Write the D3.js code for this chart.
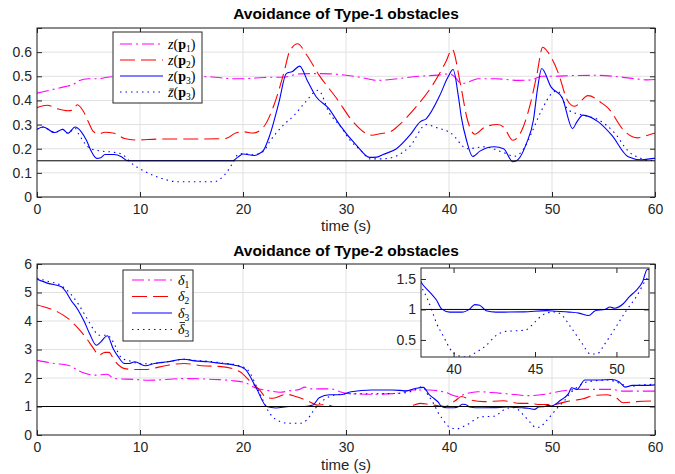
<!DOCTYPE html>
<html>
<head>
<meta charset="utf-8">
<script src="https://cdn.jsdelivr.net/npm/d3@7"></script>
<style>
body { margin: 0; background: #fff; }
svg text { font-family: "Liberation Sans", Arial, sans-serif; }
</style>
</head>
<body>
<script>
// ---- panel 1 : Type-1 obstacles ----
var z1T = [0,1,2,3,3.5,4,5,6,7,9,12,15,17,19,20,22,24,25.5,27,28.5,30,31.5,33,35,37,39,40,40.5,41.2,42,42.8,44.5,46.7,48,49,50.3,52,54.2,56,58,59.3,60];
var z1V = [0.43,0.44,0.45,0.46,0.465,0.48,0.49,0.49,0.497,0.5,0.5,0.5,0.497,0.49,0.49,0.495,0.497,0.51,0.511,0.51,0.504,0.495,0.483,0.49,0.5,0.505,0.51,0.5,0.47,0.478,0.49,0.49,0.483,0.485,0.5,0.5,0.503,0.504,0.5,0.49,0.485,0.487];

var z2T = [0,1,2,3,3.5,3.9,4.5,5,5.5,6,6.6,7.5,8.5,9.5,12,15,18.3,19.3,20,21,22,23,24,24.5,25.3,26.2,27.4,29.1,30.7,32.5,33.3,34.3,35.2,36.8,38.4,39.7,40.3,41.1,41.8,42.5,43.5,44.7,45.3,46.2,47,47.8,48.5,49.1,49.6,50.6,51.5,52.2,53.5,54.8,55.4,57.1,58.3,59.3,60];
var z2V = [0.37,0.38,0.365,0.357,0.36,0.382,0.355,0.31,0.27,0.262,0.268,0.264,0.242,0.236,0.24,0.24,0.242,0.265,0.27,0.265,0.29,0.38,0.52,0.6,0.635,0.587,0.504,0.408,0.311,0.256,0.262,0.27,0.3,0.373,0.463,0.56,0.612,0.47,0.318,0.26,0.29,0.3,0.29,0.235,0.27,0.37,0.5,0.62,0.6,0.515,0.4,0.376,0.42,0.39,0.37,0.27,0.245,0.256,0.265];

var z3T = [0,0.6,1.7,2.5,3,3.7,4.3,4.8,5.3,5.8,6.2,6.6,7.5,8.2,8.8,10,15,19,19.5,20,21.1,21.6,22,22.6,23.5,24.2,24.8,25.5,26.3,27.1,28.3,29.4,31,32.3,33,33.6,34.9,36.2,37.2,37.8,39.1,39.9,40.4,40.9,41.2,41.7,42.3,43,44.4,45.3,46.2,46.7,47.5,48.2,48.6,49,49.9,51,52,52.4,53,54.5,55.8,57.4,58.7,59.9,60];
var z3V = [0.28,0.29,0.267,0.28,0.264,0.29,0.27,0.235,0.187,0.16,0.163,0.176,0.176,0.167,0.15,0.15,0.15,0.15,0.165,0.178,0.172,0.18,0.194,0.256,0.394,0.511,0.52,0.542,0.477,0.415,0.368,0.298,0.215,0.164,0.165,0.176,0.2,0.256,0.311,0.325,0.42,0.497,0.528,0.42,0.33,0.235,0.168,0.19,0.208,0.2,0.146,0.155,0.22,0.32,0.45,0.532,0.456,0.41,0.284,0.31,0.339,0.311,0.256,0.167,0.154,0.16,0.16];

var z3bT = [0,0.6,1.7,2.5,3,3.7,4,5.2,6.3,7.5,8.3,9.2,10.5,12.1,13.7,15.3,17.2,18.2,19,19.5,20,21,22,22.6,23.9,25,26,27.3,28.4,29.5,30.4,31.5,32.3,33.5,34.6,36.2,37.8,38.6,40.2,41.8,43.5,45.1,46.4,47.4,48,49,50,50.5,51.6,52.9,54.5,56.1,57.4,58.7,59.5,60];
var z3bV = [0.28,0.29,0.267,0.28,0.264,0.285,0.264,0.2,0.19,0.185,0.176,0.139,0.105,0.077,0.063,0.063,0.063,0.091,0.14,0.176,0.18,0.175,0.19,0.23,0.297,0.34,0.39,0.442,0.347,0.29,0.235,0.19,0.158,0.158,0.165,0.21,0.3,0.29,0.264,0.2,0.208,0.187,0.169,0.21,0.264,0.36,0.43,0.44,0.36,0.34,0.32,0.264,0.19,0.159,0.15,0.16];

// ---- panel 2 : Type-2 obstacles ----
var d1T = [0,1.7,3,4.3,5.6,6.8,7.5,9.5,10.8,14.3,17.2,19.2,20.2,21.3,22.3,23.6,24.5,25.5,26,26.5,27.5,28.5,29.4,30.4,32.6,34.9,36.5,38.1,39.6,40.9,41.5,42.8,44.5,46.1,47.7,49.3,50.3,51.3,52.6,55.8,56.8,58.4,60];
var d1V = [2.62,2.51,2.45,2.21,2.1,2.13,1.98,1.95,1.92,1.98,1.95,1.9,1.84,1.64,1.57,1.5,1.55,1.6,1.68,1.62,1.62,1.62,1.52,1.45,1.43,1.46,1.58,1.58,1.5,1.35,1.43,1.52,1.48,1.43,1.38,1.43,1.5,1.56,1.6,1.6,1.54,1.54,1.54];

var d2T = [0,1.1,2,3,4,4.8,5.5,6,6.6,7,7.5,8.5,9.5,10.5,12.7,14.3,16,17.9,19.7,20.7,21.6,22.3,22.9,24.2,25.2,26.5,27.2,28.1,28.8,30,33,36,37.2,38.1,39.1,39.6,40.6,41.2,42.1,43.4,45.3,46.9,47.9,48.8,50.1,51.4,52.4,53,54,55.3,56.3,56.9,58.2,60];
var d2V = [4.56,4.45,4.32,4.09,3.74,3.39,3.03,2.8,2.9,2.9,2.62,2.33,2.3,2.3,2.45,2.51,2.43,2.4,2.22,1.88,1.58,1.31,1.29,1.43,1.34,1.16,1.05,1.07,1.0,1.0,1.0,1.0,1.11,1.07,1.02,1.0,1.2,1.35,1.23,1.17,1.2,1.11,1.11,1.07,1.07,1.17,1.23,1.27,1.38,1.41,1.29,1.13,1.17,1.2];

var d3T = [0,1.07,2.37,2.8,3.3,4,4.6,5.1,5.77,6.2,6.83,7.4,7.9,8.5,9,9.5,10.5,11.4,12.7,14.3,15.3,16.6,17.9,19.2,20.2,21.3,22.3,23.2,24.5,26,26.8,27.4,28.4,29.4,30.5,32.5,34.5,35.8,36.8,37.5,38.1,38.55,38.96,39.26,39.77,40.5,41,41.3,41.6,42,42.6,44.3,45.7,46.3,47.1,47.7,48.3,48.7,49.3,49.6,49.9,50.4,50.8,51.2,51.6,51.9,52.4,53.2,54.5,55.8,56.5,57.1,57.8,59,60];
var d3V = [5.47,5.32,5.2,5.03,4.73,4.38,3.97,3.56,3.15,3.27,3.48,3.03,2.74,2.51,2.51,2.57,2.43,2.51,2.57,2.66,2.6,2.57,2.51,2.45,2.31,1.64,1.0,0.95,1.0,1.0,1.05,1.31,1.41,1.41,1.52,1.58,1.58,1.55,1.64,1.67,1.41,1.28,1.15,1.01,0.956,0.956,1.01,1.08,1.07,0.98,0.956,0.96,0.98,0.97,0.956,0.94,0.9,0.98,1.0,1.04,1.02,1.09,1.21,1.31,1.45,1.66,1.6,1.93,1.93,1.95,1.87,1.68,1.74,1.74,1.76];

var d3bT = [0,1,2.3,3,3.5,4,5,5.5,6,6.8,7.5,8,8.5,9,10,11,12.7,14.3,15.3,16.6,17.9,19.2,20.4,21.6,22.6,23.6,24.5,25.5,26.2,26.8,27.5,28.4,29.5,31,33,35,36.5,37.4,38,38.35,38.66,38.96,39.4,39.77,40.2,40.8,41.4,42,42.6,43.2,43.8,44.4,44.8,45.2,45.7,46.2,46.6,47.2,47.9,48.4,48.8,49.3,49.96,50.6,51.2,51.8,52.3,53.5,55.5,56.5,57.5,58.8,60];
var d3bV = [5.5,5.4,5.25,5.05,4.85,4.6,4.0,3.7,3.5,3.5,3.2,2.8,2.65,2.6,2.5,2.5,2.57,2.66,2.62,2.59,2.53,2.47,2.3,1.48,0.76,0.47,0.41,0.41,0.53,0.83,1.13,1.35,1.43,1.45,1.45,1.46,1.55,1.7,1.38,1.2,0.99,0.77,0.55,0.36,0.25,0.22,0.3,0.41,0.57,0.64,0.65,0.66,0.74,0.85,0.94,0.96,0.92,0.71,0.44,0.27,0.27,0.44,0.71,0.98,1.2,1.48,1.64,1.87,1.93,1.82,1.7,1.76,1.78];

// ticks
var xTicks = [0,10,20,30,40,50,60];
var y1Ticks = [0,0.1,0.2,0.3,0.4,0.5,0.6,0.7];
var y2Ticks = [0,1,2,3,4,5,6];
var xInTicks = [40,45,50];
var yInTicks = [0.5,1,1.5];

var MAG = "#ff00ff", RED = "#ff0000", BLUE = "#0000ff", INK = "#262626";
var styles = [
    { color: MAG, dash: "12,4,2,4" },
    { color: RED, dash: "15,6" },
    { color: BLUE, dash: null },
    { color: BLUE, dash: "1.5,4" }
];

var svg = d3.select("body")
        .append("svg")
        .attr("width", 675)
        .attr("height", 474);

var defs = svg.append("defs");

function clipRect(id, x, y) {
    defs.append("clipPath").attr("id", id)
        .append("rect")
        .attr("x", x.range()[0]).attr("y", y.range()[1])
        .attr("width", x.range()[1] - x.range()[0])
        .attr("height", y.range()[0] - y.range()[1]);
}

function drawLine(g, x, y, ts, vs, st) {
    g.append("path")
        .datum(d3.zip(ts, vs))
        .attr("fill", "none")
        .attr("stroke", st.color)
        .attr("stroke-width", 1.1)
        .attr("stroke-dasharray", st.dash)
        .attr("d", d3.line()
            .x(d => x(d[0]))
            .y(d => y(d[1]))
            .curve(d3.curveMonotoneX));
}

// light grid behind the data
function grid(g, x, y, xt, yt) {
    var x0 = x.range()[0], x1 = x.range()[1], yb = y.range()[0], yt0 = y.range()[1];
    g.append("g").selectAll("line").data(xt).enter().append("line")
        .attr("x1", d => x(d)).attr("x2", d => x(d))
        .attr("y1", yb).attr("y2", yt0)
        .attr("stroke", "#e1e1e1");
    g.append("g").selectAll("line").data(yt).enter().append("line")
        .attr("x1", x0).attr("x2", x1)
        .attr("y1", d => y(d)).attr("y2", d => y(d))
        .attr("stroke", "#e1e1e1");
}

// ticks on all four sides, labels bottom/left, box
function frame(g, x, y, xt, yt, fmt) {
    var x0 = x.range()[0], x1 = x.range()[1], yb = y.range()[0], yt0 = y.range()[1];
    var ax = [
        g.append("g").attr("transform", "translate(0," + yb + ")")
            .call(d3.axisBottom(x).tickValues(xt).tickSize(-5).tickPadding(7)),
        g.append("g").attr("transform", "translate(0," + yt0 + ")")
            .call(d3.axisTop(x).tickValues(xt).tickSize(-5).tickFormat("")),
        g.append("g").attr("transform", "translate(" + x0 + ",0)")
            .call(d3.axisLeft(y).tickValues(yt).tickSize(-5).tickPadding(5).tickFormat(fmt)),
        g.append("g").attr("transform", "translate(" + x1 + ",0)")
            .call(d3.axisRight(y).tickValues(yt).tickSize(-5).tickFormat(""))
    ];
    ax.forEach(a => {
        a.select(".domain").remove();
        a.selectAll("line").attr("stroke", INK);
        a.selectAll("text")
            .attr("fill", INK)
            .style("font-size", "14px")
            .style("font-family", "'Liberation Sans', Arial, sans-serif");
    });
    g.append("rect")
        .attr("x", x0).attr("y", yt0)
        .attr("width", x1 - x0).attr("height", yb - yt0)
        .attr("fill", "none")
        .attr("stroke", INK)
        .attr("stroke-width", 1);
}

function hline(g, x, y, v) {
    g.append("line")
        .attr("x1", x.range()[0]).attr("x2", x.range()[1])
        .attr("y1", y(v)).attr("y2", y(v))
        .attr("stroke", "#000")
        .attr("stroke-width", 1);
}

// math label: parts = [text, kind]; "ib" = italic with a bar on top
function mathText(g, t, parts, barY) {
    parts.forEach(p => {
        var s = t.append("tspan").text(p[0]);
        if (p[1] == "i" || p[1] == "ib") s.attr("font-style", "italic");
        if (p[1] == "b") s.attr("font-weight", "bold");
        if (p[1] == "sub") s.attr("font-size", "9.5px").attr("dy", 3);
        if (p[1] == "up") s.attr("dy", -3);
    });
    if (parts[0][1] == "ib") {
        var a = t.node().getStartPositionOfChar(0), b = t.node().getEndPositionOfChar(0);
        g.append("line")
            .attr("x1", a.x + 1.5).attr("x2", b.x + 0.5)
            .attr("y1", barY).attr("y2", barY)
            .attr("stroke", "#000").attr("stroke-width", 0.8);
    }
}

function legend(g, bx, by, bw, bh, lx1, lx2, tx, rows, labels, barUp) {
    g.append("rect")
        .attr("x", bx).attr("y", by).attr("width", bw).attr("height", bh)
        .attr("fill", "#fff").attr("stroke", INK).attr("stroke-width", 1);
    styles.forEach((st, i) => {
        g.append("line")
            .attr("x1", lx1).attr("x2", lx2)
            .attr("y1", rows[i]).attr("y2", rows[i])
            .attr("stroke", st.color).attr("stroke-width", 1.1)
            .attr("stroke-dasharray", st.dash);
        var t = g.append("text")
            .attr("x", tx).attr("y", rows[i] + 4.5)
            .attr("fill", "#000")
            .style("font-family", "'Liberation Serif', 'DejaVu Serif', serif")
            .style("font-size", "14px");
        mathText(g, t, labels[i], rows[i] - barUp);
    });
}

function title(txt, y) {
    svg.append("text")
        .attr("x", 346).attr("y", y)
        .attr("text-anchor", "middle")
        .attr("fill", "#000")
        .style("font-weight", "bold")
        .style("font-size", "15.5px")
        .text(txt);
}

function xlabel(y) {
    svg.append("text")
        .attr("x", 346).attr("y", y)
        .attr("text-anchor", "middle")
        .attr("fill", INK)
        .style("font-size", "15px")
        .text("time (s)");
}

// ---------------- top panel ----------------
var xA = d3.scaleLinear().domain([0, 60]).range([37, 655]);
var yA = d3.scaleLinear().domain([0, 0.7]).range([197, 28]);
clipRect("clipA", xA, yA);

var gA = svg.append("g");
grid(gA, xA, yA, xTicks, y1Ticks);
var linesA = gA.append("g").attr("clip-path", "url(#clipA)");
[[z1T, z1V], [z2T, z2V], [z3T, z3V], [z3bT, z3bV]].forEach((s, i) => drawLine(linesA, xA, yA, s[0], s[1], styles[i]));
hline(gA, xA, yA, 0.15);
frame(gA, xA, yA, xTicks, y1Ticks, d => d == 0.7 ? "" : d3.format("~g")(d));
legend(gA, 113, 32, 89, 71, 120, 163, 168, [44, 60, 76, 92], [
    [["z", "i"], ["("], ["p", "b"], ["1", "sub"], [")", "up"]],
    [["z", "i"], ["("], ["p", "b"], ["2", "sub"], [")", "up"]],
    [["z", "i"], ["("], ["p", "b"], ["3", "sub"], [")", "up"]],
    [["z", "ib"], ["("], ["p", "b"], ["3", "sub"], [")", "up"]]
], 3);
title("Avoidance of Type-1 obstacles", 19);
xlabel(231);

// ---------------- bottom panel ----------------
var xB = d3.scaleLinear().domain([0, 60]).range([37, 655]);
var yB = d3.scaleLinear().domain([0, 6]).range([435, 264]);
clipRect("clipB", xB, yB);

var gB = svg.append("g");
grid(gB, xB, yB, xTicks, y2Ticks);
var linesB = gB.append("g").attr("clip-path", "url(#clipB)");
[[d1T, d1V], [d2T, d2V], [d3T, d3V], [d3bT, d3bV]].forEach((s, i) => drawLine(linesB, xB, yB, s[0], s[1], styles[i]));
hline(gB, xB, yB, 1);
frame(gB, xB, yB, xTicks, y2Ticks, d3.format("~g"));
legend(gB, 123, 270, 70, 71, 132, 172, 178, [280, 296.5, 313, 329.5], [
    [["\u03b4", "i"], ["1", "sub"]],
    [["\u03b4", "i"], ["2", "sub"]],
    [["\u03b4", "i"], ["3", "sub"]],
    [["\u03b4", "ib"], ["3", "sub"]]
], 7);
title("Avoidance of Type-2 obstacles", 256);
xlabel(470);

// ---------------- inset (zoom of delta_3) ----------------
var xI = d3.scaleLinear().domain([38, 52]).range([421, 649]);
var yI = d3.scaleLinear().domain([0.22, 1.68]).range([357, 268]);
clipRect("clipI", xI, yI);

var gI = svg.append("g");
gI.append("rect")
    .attr("x", 421).attr("y", 268).attr("width", 228).attr("height", 89)
    .attr("fill", "#fff");
var linesI = gI.append("g").attr("clip-path", "url(#clipI)");
drawLine(linesI, xI, yI, d3T, d3V, styles[2]);
drawLine(linesI, xI, yI, d3bT, d3bV, styles[3]);
hline(gI, xI, yI, 1);
frame(gI, xI, yI, xInTicks, yInTicks, d3.format("~g"));
</script>
</body>
</html>
